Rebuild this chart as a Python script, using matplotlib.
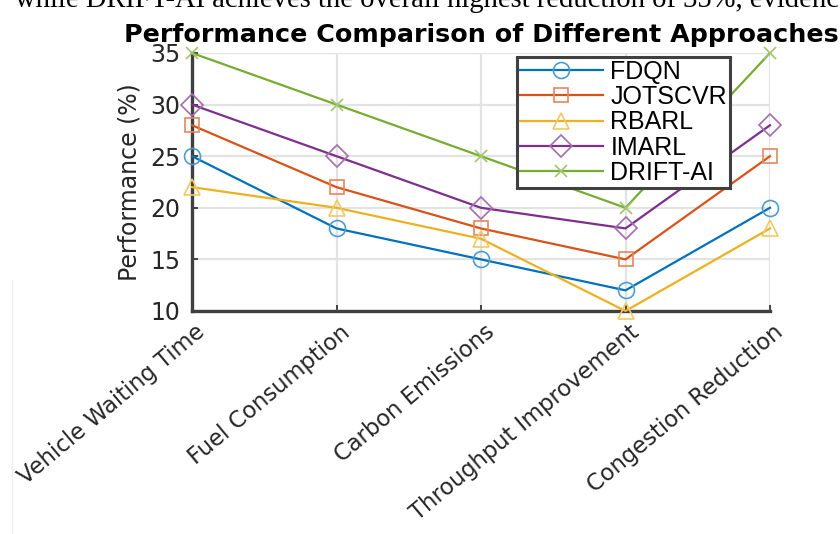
import matplotlib
matplotlib.use("Agg")
import matplotlib.pyplot as plt
import matplotlib.transforms as mtransforms
from matplotlib.lines import Line2D
from matplotlib.colors import to_rgb

categories = ["Vehicle Waiting Time", "Fuel Consumption", "Carbon Emissions",
              "Throughput Improvement", "Congestion Reduction"]
series_names = ["FDQN", "JOTSCVR", "RBARL", "IMARL", "DRIFT-AI"]
fdqn = [25, 18, 15, 12, 20]
jotscvr = [28, 22, 18, 15, 25]
rbarl = [22, 20, 17, 10, 18]
imarl = [30, 25, 20, 18, 28]
drift_ai = [35, 30, 25, 20, 35]
yticks = [10, 15, 20, 25, 30, 35]

series = [fdqn, jotscvr, rbarl, imarl, drift_ai]
colors = ["#0072BD", "#D95319", "#EDB120", "#7E2F8E", "#77AC30"]
markers = ["o", "s", "^", "D", "x"]
msizes = [11.5, 10, 12, 11, 9]

plt.rcParams['font.family'] = ['DejaVu Sans']

fig = plt.figure(figsize=(8.4, 5.34), dpi=100)
W, H = 840, 534
ax = fig.add_axes([192 / W, 1 - 311 / H, (770 - 192) / W, (311 - 53) / H])

x = list(range(len(categories)))
for vals, name, c, m, ms in zip(series, series_names, colors, markers, msizes):
    rgb = to_rgb(c)
    light = tuple(min(1, 0.3 + 0.7 * v) for v in rgb)
    ax.plot(x, vals, color=c, lw=1.6, marker=m, ms=ms, mfc='none',
            mec=light, mew=1.2, label=name, clip_on=False, zorder=3)

ax.set_xlim(0, len(categories) - 1)
ax.set_ylim(10, 35)
ax.set_yticks(yticks)
ax.set_xticks(x)
ax.tick_params(axis='y', labelsize=17, labelcolor='#262626', direction='in',
               length=4, width=1.2, color='#262626', pad=8.5)
ax.tick_params(axis='x', direction='in', length=4, width=1.2, color='#262626', pad=4)
ax.set_xticklabels(categories, rotation=40, rotation_mode='anchor', ha='right',
                   va='top', fontsize=16.3, color='#262626')
offset = mtransforms.ScaledTranslation(3 / 100, -4 / 100, fig.dpi_scale_trans)
for lbl in ax.get_xticklabels():
    lbl.set_transform(lbl.get_transform() + offset)

ax.grid(True, color='#e3e3e3', lw=1.6)
ax.set_axisbelow(True)
for s in ['top', 'right']:
    ax.spines[s].set_visible(False)
for s in ['left', 'bottom']:
    ax.spines[s].set_color('#404040')
    ax.spines[s].set_linewidth(2.4)

ax.set_ylabel("Performance (%)", fontsize=17, color='#262626', labelpad=6)
ax.set_title("Performance Comparison of Different Approaches", fontsize=18.3,
             fontweight='bold', pad=8, color='black')

leg = ax.legend(loc='upper left', bbox_to_anchor=((517 - 192) / (770 - 192), 1 - 4 / 258),
                prop={'family': 'Liberation Sans', 'size': 18},
                frameon=True, fancybox=False, handlelength=3.3,
                handletextpad=0.32, labelspacing=0.05, borderpad=0.12, borderaxespad=0)
leg.get_frame().set_edgecolor('#404040')
leg.get_frame().set_linewidth(2.2)
leg.get_frame().set_facecolor('white')
leg.get_frame().set_alpha(1)

fig.text(15 / W, 1 - 7 / H, "while DRIFT-AI achieves the overall highest reduction of 35%, evidenced",
         family='Liberation Serif', fontsize=20.6, ha='left', va='baseline', color='black')
fig.add_artist(Line2D([12 / W, 12 / W], [0, 1 - 280 / H], color='#ececec', lw=1,
                      transform=fig.transFigure))

fig.savefig("out.png", dpi=100)
